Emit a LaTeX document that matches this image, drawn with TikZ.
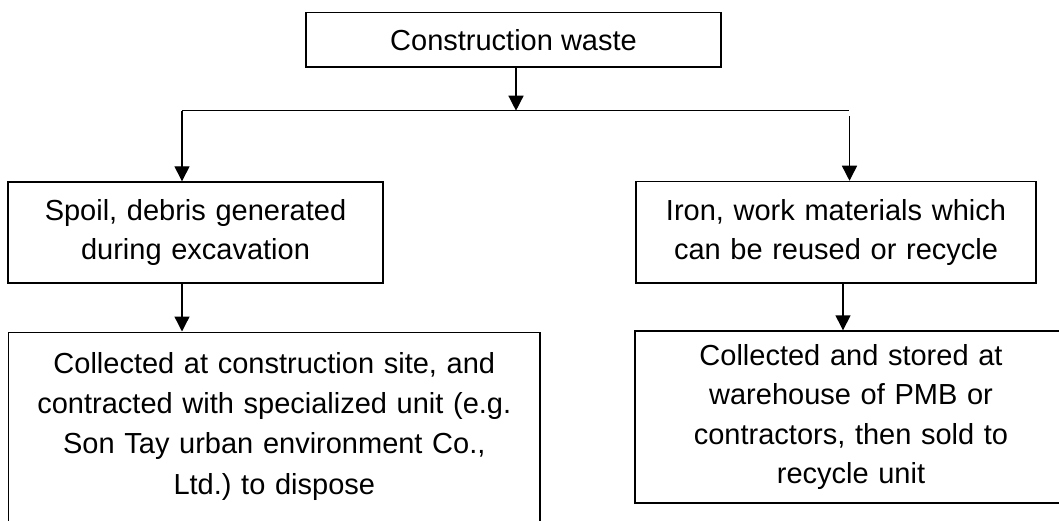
\documentclass[tikz,border=0pt]{standalone}
\usepackage{fontspec}
\setmainfont{Liberation Sans}
\usetikzlibrary{arrows.meta}
\frenchspacing
\begin{document}
\begin{tikzpicture}[x=1pt,y=-1pt,
  box/.style={draw, line width=1.4pt, inner xsep=5pt, align=center,
    font=\fontsize{29}{39}\selectfont\frenchspacing},
  arr/.style={line width=1.4pt, -{Triangle[length=15pt,width=15pt]}},
  link/.style={line width=1.4pt}]
\useasboundingbox (0,0) rectangle (1059,521);
\fill[white] (0,0) rectangle (1059,521);
\clip (0,0) rectangle (1059,521);
\node[box, minimum width=415pt, minimum height=54.3pt] (top) at (513.5,39.9) {Construction waste};
\node[box, text width=365pt, minimum height=101pt] (spoil) at (195.5,232.5) {Spoil, debris generated\\during excavation};
\node[box, text width=390pt, minimum height=101.5pt] (iron) at (836,232.2) {Iron, work materials which\\can be reused or recycle};
\node[box, text width=521.4pt, anchor=north, inner ysep=19.8pt, text height=21pt, text depth=300pt,
  font=\fontsize{29}{40.4}\selectfont\frenchspacing] (dispose) at (274.3,331.5)
  {Collected at construction site, and\\contracted with specialized unit (e.g.\\Son Tay urban environment Co.,\\Ltd.) to dispose};
\node[box, text width=422pt, minimum height=172pt] (recycle) at (851,417)
  {Collected and stored at\\warehouse of PMB or\\contractors, then sold to\\recycle unit};
\coordinate (jc) at (516,110.7);
\coordinate (jl) at (182,110.7);
\coordinate (jr) at (849,110.7);
\coordinate (jr2) at (849.5,116);
\coordinate (rx) at (843,0);
\draw[arr] (top.south -| jc) -- (jc);
\draw[link] (jl) -- (jr);
\draw[arr] (jl) -- (jl |- spoil.north);
\draw[arr] (jr2) -- (jr2 |- iron.north);
\draw[arr] (spoil.south -| jl) -- (jl |- dispose.north);
\draw[arr] (iron.south -| rx) -- (rx |- recycle.north);
\end{tikzpicture}
\end{document}
